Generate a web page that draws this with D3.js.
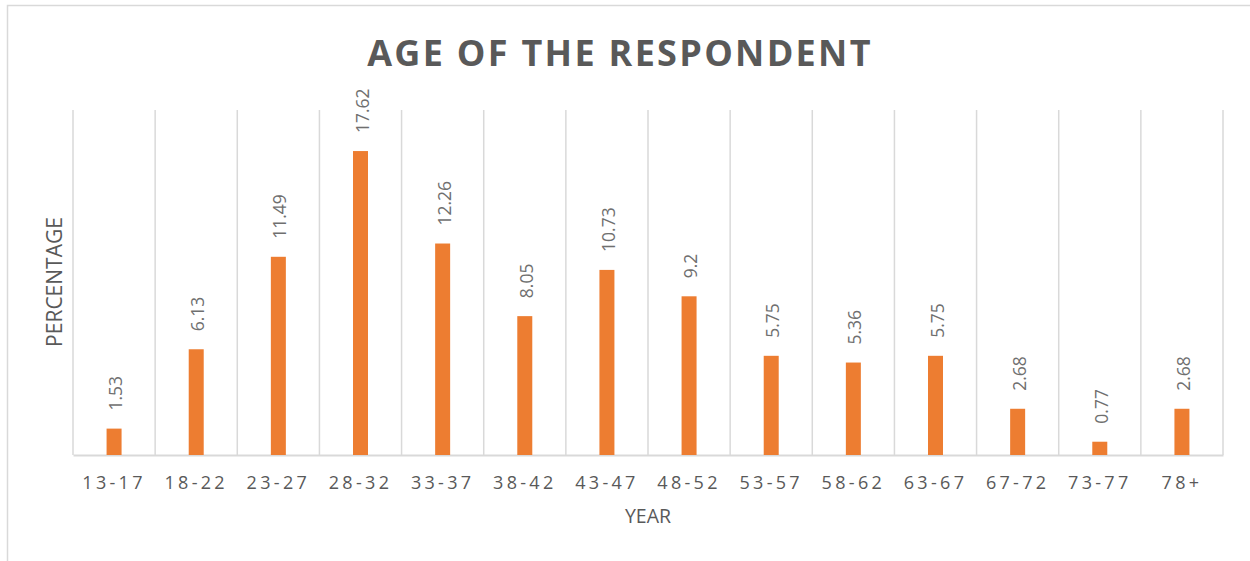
<!DOCTYPE html>
<html>
<head>
<meta charset="utf-8">
<script src="https://cdn.jsdelivr.net/npm/d3@7"></script>
<style>
  html, body { margin: 0; padding: 0; background: #fff; }
  svg { display: block; }
</style>
</head>
<body>
<svg id="chart" width="1250" height="561"></svg>
<script>
const categories = ["13-17","18-22","23-27","28-32","33-37","38-42","43-47","48-52","53-57","58-62","63-67","67-72","73-77","78+"];
const values = [1.53, 6.13, 11.49, 17.62, 12.26, 8.05, 10.73, 9.2, 5.75, 5.36, 5.75, 2.68, 0.77, 2.68];
const titleText = "AGE OF THE RESPONDENT";
const xTitle = "YEAR";
const yTitle = "PERCENTAGE";

const svg = d3.select("#chart");
const m = { left: 73, right: 1223, top: 110, bottom: 455 };
const font = "'Open Sans', 'Liberation Sans', sans-serif";
const textColor = "#595959";

// chart border
svg.append("rect").attr("x", 7.5).attr("y", 5.5).attr("width", 1300).attr("height", 700)
  .attr("fill", "#fff").attr("stroke", "#d9d9d9").attr("stroke-width", 1.5);

const x = d3.scaleBand().domain(categories).range([m.left, m.right]).paddingInner(0).paddingOuter(0);
const y = d3.scaleLinear().domain([0, 20]).range([m.bottom, m.top]);

// vertical gridlines at category boundaries
const bounds = categories.map(c => x(c)).concat([m.right]);
svg.append("g").selectAll("line").data(bounds).join("line")
  .attr("x1", d => d).attr("x2", d => d)
  .attr("y1", m.top).attr("y2", m.bottom)
  .attr("stroke", "#d9d9d9").attr("stroke-width", 1.5);

// x axis
const xAxis = d3.axisBottom(x).tickSize(0).tickPadding(0);
const gx = svg.append("g").attr("transform", `translate(0,${m.bottom})`).call(xAxis);
gx.select(".domain").attr("stroke", "#d9d9d9").attr("stroke-width", 2);
gx.selectAll("text")
  .attr("y", 34).attr("dy", 0)
  .attr("fill", textColor)
  .style("font-family", font).style("font-size", "18px").style("letter-spacing", "3.3px");

// bars
const barW = 15;
svg.append("g").selectAll("rect").data(values).join("rect")
  .attr("x", (d, i) => x(categories[i]) + x.bandwidth() / 2 - barW / 2)
  .attr("y", d => y(d))
  .attr("width", barW)
  .attr("height", d => y(0) - y(d))
  .attr("fill", "#ed7d31");

// data labels (rotated)
svg.append("g").selectAll("text").data(values).join("text")
  .attr("transform", (d, i) => `translate(${x(categories[i]) + x.bandwidth() / 2 + 2},${y(d) - 18}) rotate(-90)`)
  .attr("dy", "0.35em")
  .attr("text-anchor", "start")
  .attr("fill", "#6f6f6f")
  .style("font-family", font).style("font-size", "17.5px")
  .text(d => d);

// title
svg.append("text")
  .attr("x", 620).attr("y", 66)
  .attr("text-anchor", "middle")
  .attr("fill", textColor)
  .style("font-family", font).style("font-size", "36px").style("font-weight", "bold")
  .style("letter-spacing", "2.3px")
  .text(titleText);

// x axis title
svg.append("text")
  .attr("x", 648).attr("y", 523)
  .attr("text-anchor", "middle")
  .attr("fill", textColor)
  .style("font-family", font).style("font-size", "19.5px")
  .text(xTitle);

// y axis title
svg.append("text")
  .attr("transform", `translate(62,282) rotate(-90)`)
  .attr("text-anchor", "middle")
  .attr("fill", textColor)
  .style("font-family", font).style("font-size", "21px")
  .text(yTitle);
</script>
</body>
</html>
